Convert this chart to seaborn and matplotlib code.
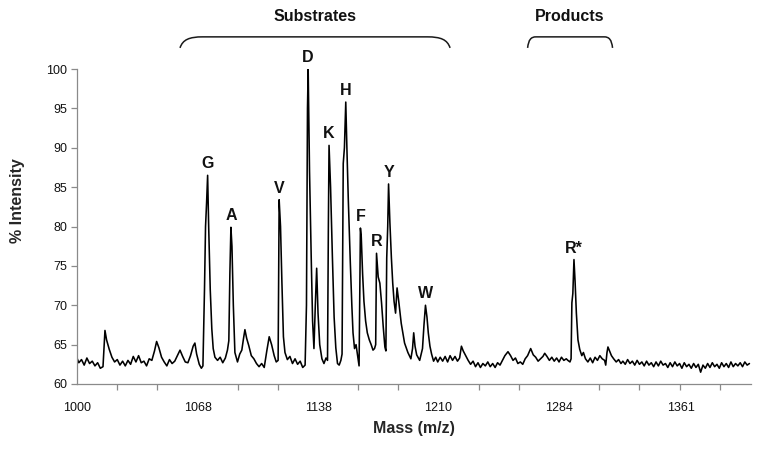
import numpy as np
import pandas as pd
import matplotlib
matplotlib.use("Agg")
import matplotlib.pyplot as plt
import matplotlib.transforms as mtransforms
from matplotlib.path import Path
from matplotlib.patches import PathPatch
import seaborn as sns

# ---------------- data ----------------
mass = [
    1000, 1001, 1002.5, 1004, 1005.5, 1007, 1008.5, 1010, 1011.5, 1013,
    1014.5, 1015.6, 1016.5, 1018, 1019.5, 1021, 1022.5, 1024, 1025.5, 1027,
    1028.5, 1030, 1031.5, 1033, 1034.5, 1036, 1037.5, 1039, 1040.5, 1042,
    1043.5, 1044.7, 1046, 1047.5, 1049, 1050.5, 1052, 1053.5, 1055, 1056.5,
    1058, 1059.5, 1061, 1062.5, 1064, 1065.5, 1066.5, 1067.5, 1069, 1070.2,
    1071.1, 1072.0, 1072.6, 1073.2, 1073.8, 1074.4, 1075.3, 1076.2, 1077, 1078,
    1079.5, 1081, 1082.5, 1084, 1085.2, 1086.0, 1086.6, 1087.2, 1087.8, 1088.6,
    1089.5, 1091, 1092.3, 1093.5, 1094.5, 1095.3, 1096.3, 1097.5, 1099, 1100.5,
    1102, 1103.5, 1105, 1106.5, 1108, 1109.4, 1110.8, 1112.3, 1113.5, 1114.6,
    1115.2, 1116.0, 1116.8, 1117.7, 1118.6, 1120, 1121.5, 1123, 1124.5, 1126,
    1127.5, 1129, 1130.4, 1131.2, 1131.8, 1132.2, 1133.0, 1134.0, 1134.8, 1135.6,
    1136.4, 1137.2, 1138.0, 1139.0, 1140.3, 1141.5, 1142.7, 1143.6, 1144.1, 1144.5,
    1145.4, 1146.5, 1147.5, 1148.5, 1149.5, 1150.5, 1151.5, 1152.2, 1152.9, 1153.6,
    1154.4, 1155.1, 1155.9, 1157.1, 1158.0, 1158.7, 1159.6, 1160.5, 1161.5, 1162.3,
    1163.1, 1163.6, 1164.4, 1165.2, 1166.2, 1167.2, 1168.4, 1169.5, 1170.6, 1171.5,
    1172.2, 1172.7, 1173.7, 1174.7, 1175.7, 1176.7, 1177.7, 1178.3, 1178.8, 1179.4,
    1179.9, 1180.7, 1181.6, 1182.4, 1183.2, 1184.1, 1185.0, 1186.0, 1187.5, 1189.5,
    1191.5, 1193.3, 1194.3, 1195.0, 1195.8, 1196.8, 1198.6, 1200.3, 1201.2, 1202.1,
    1203.0, 1203.8, 1204.8, 1205.8, 1207.0, 1208.3, 1209.5, 1211, 1212.5, 1214,
    1215.5, 1217, 1218.5, 1220, 1221.5, 1222.8, 1223.9, 1225, 1226.5, 1228,
    1229.5, 1231, 1232.5, 1234, 1235.5, 1237, 1238.5, 1240, 1241.5, 1243,
    1244.5, 1246, 1247.5, 1249, 1250.5, 1252.4, 1254, 1255.5, 1257, 1258.5,
    1260, 1261.5, 1263, 1264.5, 1266.4, 1268, 1269.5, 1271, 1272.5, 1274,
    1275.1, 1276.5, 1278, 1279.5, 1281, 1282.5, 1284, 1285.5, 1287, 1288.5,
    1289.5, 1290.8, 1291.5, 1292.0, 1292.6, 1293.3, 1294.0, 1294.8, 1295.8, 1296.9,
    1298.2, 1299.2, 1300.5, 1302, 1303.5, 1305, 1306.5, 1308, 1309.5, 1311,
    1312.5, 1313.2, 1314.0, 1314.6, 1315.6, 1316.8, 1318.2, 1319.8, 1321.3, 1322.8,
    1324, 1325.5, 1327, 1328.5, 1330, 1331.5, 1333, 1334.5, 1336, 1337.5,
    1339, 1340.5, 1342, 1343.5, 1345, 1346.5, 1348, 1349.5, 1351, 1352.5,
    1354, 1355.5, 1357, 1358.5, 1360, 1361.5, 1363, 1364.5, 1366, 1367.5,
    1369, 1370.5, 1372, 1373.5, 1375, 1376.5, 1378, 1379.5, 1381, 1382.5,
    1384, 1385.5, 1387, 1388.5, 1390, 1391.5, 1393, 1394.5, 1396, 1397.5,
    1399, 1400.5, 1402, 1403.5, 1405,
]
intensity = [
    63.3, 62.7, 63.1, 62.4, 63.3, 62.6, 62.9, 62.3, 62.7, 62.0,
    62.2, 66.8, 65.6, 64.4, 63.4, 62.8, 63.1, 62.4, 62.9, 62.3,
    63.0, 62.5, 63.5, 62.8, 63.6, 62.7, 62.9, 62.3, 63.2, 63.0,
    64.2, 65.4, 64.6, 63.4, 62.8, 62.3, 63.1, 62.6, 62.9, 63.6,
    64.3, 63.5, 62.8, 62.7, 63.6, 64.8, 65.2, 63.8, 62.5, 62.0,
    62.3, 72.0, 80.0, 83.0, 86.5, 80.0, 72.0, 67.0, 64.5, 63.4,
    63.0, 63.4, 62.7, 63.3, 64.3, 65.5, 74.0, 79.9, 77.5, 70.0,
    64.0, 62.8, 63.8, 64.3, 65.8, 66.9, 65.8, 64.9, 63.6, 63.2,
    62.6, 62.2, 62.6, 62.1, 64.2, 66.0, 65.0, 63.6, 62.8, 63.0,
    83.4, 80.0, 73.0, 66.0, 64.0, 63.1, 63.5, 62.6, 63.2, 62.5,
    62.9, 62.1, 62.4, 70.0, 95.0, 100.0, 87.0, 76.0, 68.0, 64.5,
    70.0, 74.7, 69.0, 65.0, 63.2, 62.6, 63.3, 63.0, 80.0, 90.3,
    85.0, 76.0, 68.5, 64.6, 62.6, 62.4, 63.0, 63.8, 88.0, 90.0,
    95.8, 89.7, 83.4, 75.4, 70.0, 66.5, 64.5, 65.0, 63.5, 62.3,
    79.8, 78.7, 74.0, 70.5, 68.0, 66.5, 65.6, 65.0, 64.3, 64.5,
    65.0, 76.6, 73.6, 72.8, 70.3, 67.3, 64.7, 64.2, 76.0, 80.0,
    85.4, 80.5, 76.0, 72.8, 70.5, 69.0, 72.2, 70.5, 67.7, 65.2,
    64.0, 63.2, 64.5, 66.5, 64.8, 63.7, 63.0, 64.5, 67.5, 70.0,
    68.5, 66.5, 64.8, 63.8, 62.9, 63.4, 62.8, 63.4, 62.9, 63.5,
    62.8, 63.6, 63.0, 63.5, 62.9, 63.3, 64.8, 64.2, 63.6, 63.0,
    62.5, 62.9, 62.2, 62.7, 62.1, 62.6, 62.3, 62.8, 62.2, 62.6,
    62.1, 62.7, 62.4, 63.0, 63.6, 64.1, 63.6, 63.0, 63.3, 62.6,
    62.8, 62.5, 63.2, 63.6, 64.5, 63.7, 63.4, 62.9, 63.2, 63.5,
    63.9, 63.5, 63.0, 63.4, 62.9, 63.3, 62.8, 63.4, 63.0, 63.2,
    63.0, 62.8, 63.2, 70.3, 71.5, 75.8, 73.0, 69.0, 65.6, 64.4,
    63.6, 64.0, 63.2, 62.8, 63.3, 62.7, 63.4, 63.0, 63.6, 63.2,
    63.0, 62.4, 64.0, 64.7, 64.2, 63.6, 63.2, 62.8, 63.1, 62.6,
    62.9, 62.5, 63.1, 62.6, 62.9, 62.4, 63.0, 62.5, 62.8, 62.3,
    62.9, 62.4, 62.7, 62.2, 62.8, 62.3, 62.9, 62.4, 62.6, 62.1,
    62.7, 62.2, 62.8, 62.3, 62.6, 62.0, 62.7, 62.2, 62.5, 62.0,
    62.6, 62.1, 62.5, 61.5, 62.4, 62.0, 62.6, 62.1, 62.7, 62.2,
    62.5, 62.0, 62.7, 62.2, 62.6, 62.1, 62.8, 62.2, 62.6, 62.3,
    62.7, 62.2, 62.8, 62.4, 62.6,
]

peak_labels = ["G", "A", "V", "D", "K", "H", "F", "R", "Y", "W", "R*"]
peak_mass = [1073.8, 1087.2, 1115.2, 1132.2, 1144.5, 1154.4, 1163.1, 1172.7, 1179.9, 1202.1, 1293.3]
peak_height = [86.5, 79.9, 83.4, 100.0, 90.3, 95.8, 79.8, 76.6, 85.4, 70.0, 75.8]

x_tick_labels = ["1000", "1068", "1138", "1210", "1284", "1361"]
y_ticks = [60, 65, 70, 75, 80, 85, 90, 95, 100]

group_names = ["Substrates", "Products"]
group_start = [1058.0, 1264.5]
group_end = [1217.0, 1317.5]

# ---------------- style ----------------
sns.set_style("white")
plt.rcParams["font.family"] = ["Liberation Sans", "DejaVu Sans"]
plt.rcParams["xtick.bottom"] = True
plt.rcParams["ytick.left"] = True

W, H = 762, 449
fig = plt.figure(figsize=(W / 100, H / 100), dpi=100)
ax = fig.add_axes([77 / W, 65 / H, 674 / W, 315 / H])


# time-of-flight style mass axis (equal spacing between labelled masses grows)
def fwd(m):
    m = np.asarray(m, dtype=float)
    return (-67.0 + np.sqrt(np.maximum(67.0 ** 2 + 4.0 * (m - 1000.0), 0.0))) / 2.0


def inv(k):
    k = np.asarray(k, dtype=float)
    return 1000.0 + 67.0 * k + k ** 2


ax.set_xscale("function", functions=(fwd, inv))

df = pd.DataFrame({"mass": mass, "intensity": intensity})
sns.lineplot(data=df, x="mass", y="intensity", ax=ax, color="#000000",
             linewidth=1.15, estimator=None, sort=False)

ax.set_xlim(1000, 1406)
ax.set_ylim(60, 100)

# ticks
major = [float(t) for t in x_tick_labels]
ax.set_xticks(major)
ax.set_xticklabels(x_tick_labels)
ax.set_xticks(inv(np.arange(0, 17) / 3.0), minor=True)
ax.set_yticks(y_ticks)
ax.set_yticklabels([str(v) for v in y_ticks])

spine_col = "#8a8a8a"
for s in ["top", "right"]:
    ax.spines[s].set_visible(False)
for s in ["left", "bottom"]:
    ax.spines[s].set_color(spine_col)
    ax.spines[s].set_linewidth(0.9)

ax.tick_params(axis="x", which="major", bottom=True, length=0, pad=13,
               labelsize=9, labelcolor="#111111")
ax.tick_params(axis="x", which="minor", bottom=True, length=4, width=0.9,
               color=spine_col, direction="out")
ax.tick_params(axis="y", which="major", left=True, length=4, width=0.9,
               color=spine_col, direction="out", pad=3, labelsize=9,
               labelcolor="#111111")

ax.set_xlabel("Mass (m/z)", fontsize=11.5, fontweight="bold")
ax.xaxis.set_label_coords(0.5, -0.117)
ax.set_ylabel("% Intensity", fontsize=11.5, fontweight="bold", va="center")
ax.yaxis.set_label_coords(-0.088, 0.583)

ax.grid(False)

# peak labels
for lab, m, h in zip(peak_labels, peak_mass, peak_height):
    ax.annotate(lab, xy=(m, h), xytext=(0, 5), textcoords="offset points",
                ha="center", va="baseline", fontsize=11.5, fontweight="bold",
                color="#111111", annotation_clip=False)

# group brackets
trans = mtransforms.blended_transform_factory(ax.transData, ax.transAxes)
y_bot, y_top, y_txt = 1.067, 1.102, 1.168
corner_k = [0.19, 0.07]
for name, a, b, c in zip(group_names, group_start, group_end, corner_k):
    ka, kb = float(fwd(a)), float(fwd(b))
    hgt = y_top - y_bot
    pts_k = [
        (ka, y_bot),
        (ka + 0.12 * c, y_bot + 0.75 * hgt), (ka + 0.4 * c, y_top), (ka + c, y_top),
        (kb - c, y_top),
        (kb - 0.4 * c, y_top), (kb - 0.12 * c, y_bot + 0.75 * hgt), (kb, y_bot),
    ]
    verts = [(float(inv(k)), y) for k, y in pts_k]
    codes = [Path.MOVETO, Path.CURVE4, Path.CURVE4, Path.CURVE4,
             Path.LINETO, Path.CURVE4, Path.CURVE4, Path.CURVE4]
    patch = PathPatch(Path(verts, codes), transform=trans, fill=False,
                      edgecolor="#1a1a1a", linewidth=1.1, clip_on=False)
    ax.add_patch(patch)
    xc = float(inv((ka + kb) / 2.0))
    ax.text(xc, y_txt, name, transform=trans, ha="center", va="center",
            fontsize=11.5, fontweight="bold", color="#111111", clip_on=False)

fig.savefig("out.png", dpi=100)
